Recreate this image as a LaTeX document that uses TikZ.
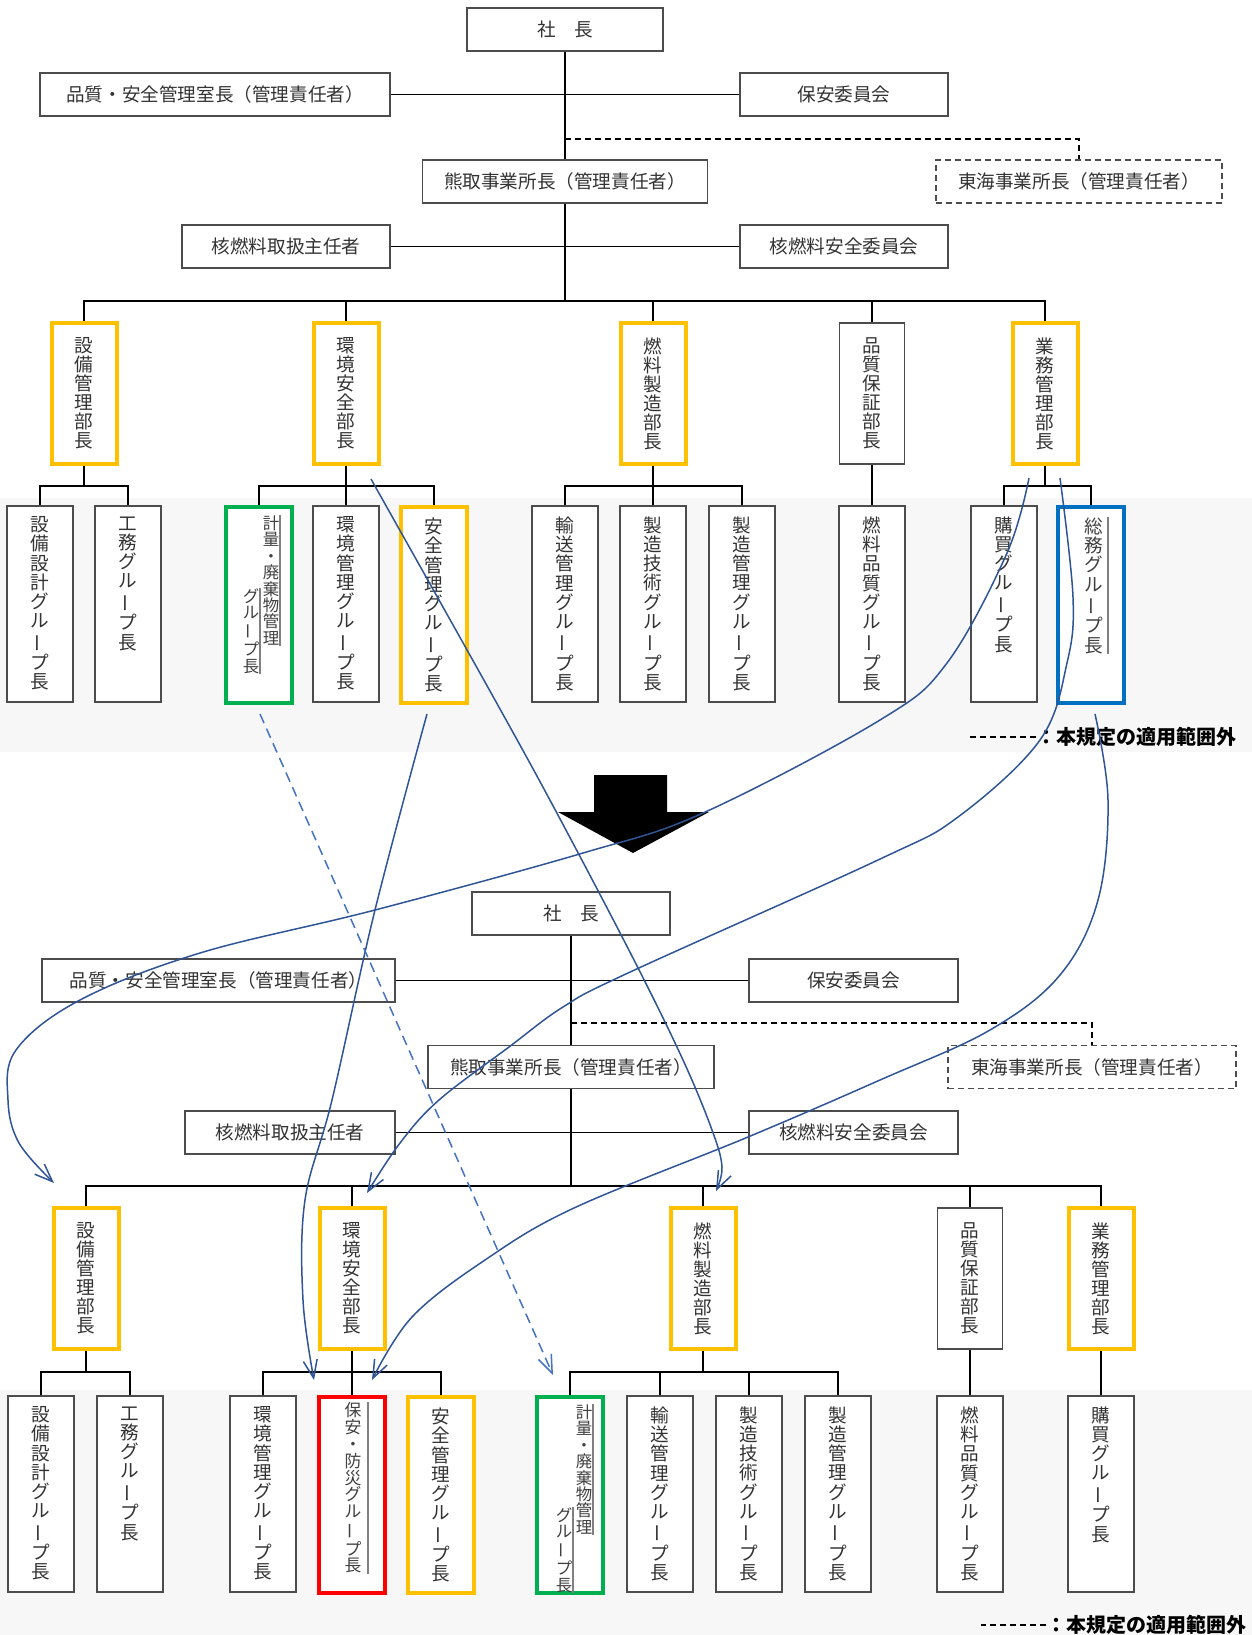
\documentclass[tikz,border=0pt]{standalone}
\usepackage{fontspec}
\setmainfont{Noto Sans CJK JP}
\usetikzlibrary{arrows.meta}
\definecolor{waku}{HTML}{FFC000}
\definecolor{midori}{HTML}{00B050}
\definecolor{ao}{HTML}{0070C0}
\definecolor{aka}{HTML}{FF0000}
\definecolor{yajirushi}{HTML}{2F5597}
\definecolor{tensen}{HTML}{4472C4}
\newcommand{\nobashi}{\rotatebox[origin=c]{90}{ー}}
\newcommand{\grptext}[1]{\parbox[c][95pt][t]{30pt}{\centering\vspace*{4pt}#1}}
\begin{document}
\begin{tikzpicture}[x=.5pt,y=-.5pt,line width=.75pt,
	box/.style={draw=black!70,fill=white,inner sep=0pt,text=black!80,minimum height=21.5pt,font=\fontsize{9.3}{11}\selectfont},
	dept/.style={box,minimum width=32.5pt,minimum height=70.5pt,align=center,font=\fontsize{9.3}{9.5}\selectfont},
	grp/.style={box,anchor=north,minimum width=33pt,minimum height=98pt,font=\fontsize{9.3}{9.6}\selectfont},
	coltxt/.style={anchor=north,inner sep=0pt,align=center,text=black!75},
	orwaku/.style={draw=waku,line width=2pt},
	midoriwaku/.style={draw=midori,line width=2pt},
	aowaku/.style={draw=ao,line width=2pt},
	akawaku/.style={draw=aka,line width=2pt},
	sideln/.style={black!50,line width=1.3pt},
	ido/.style={yajirushi,line width=.75pt,-{Straight Barb[length=9pt,width=7pt]}}]
	\useasboundingbox(0,0)rectangle(1252,1635);
	\fill[black!3](0,498)rectangle(1252,752);
	\fill[black!3](0,1390)rectangle(1252,1635);

	\node[box,minimum width=98pt](sha1)at(565,29.5){社　長};
	\node[box,minimum width=175pt](hin1)at(215,94.5){品質・安全管理室長（管理責任者）};
	\node[box,minimum width=104pt](hoan1)at(844,94.5){保安委員会};
	\node[box,minimum width=142.5pt](kuma1)at(565,181.5){熊取事業所長（管理責任者）};
	\node[box,densely dashed,minimum width=143pt](tokai1)at(1079,181.5){東海事業所長（管理責任者）};
	\node[box,minimum width=104pt](shu1)at(286,246.5){核燃料取扱主任者};
	\node[box,minimum width=104pt](anz1)at(844,246.5){核燃料安全委員会};
	\coordinate(br1)at(565,139);
	\coordinate(bus1)at(565,301);
	\coordinate(gb1)at(0,486);

	\node[dept,orwaku](setsu1)at(84,393.5){設\\備\\管\\理\\部\\長};
	\node[dept,orwaku](kan1)at(346,393.5){環\\境\\安\\全\\部\\長};
	\node[dept,orwaku](nen1)at(653,393.5){燃\\料\\製\\造\\部\\長};
	\node[dept](hinsho1)at(872,393.5){品\\質\\保\\証\\部\\長};
	\node[dept,orwaku](gyomu1)at(1045,393.5){業\\務\\管\\理\\部\\長};

	\node[grp](sekkei1)at(40,505){\grptext{設\\備\\設\\計\\グ\\ル\\\nobashi\\プ\\長}};
	\node[grp](koumu1)at(128,505){\grptext{工\\務\\グ\\ル\\\nobashi\\プ\\長}};
	\node[grp,midoriwaku](keiryo1)at(259,505){};
	\node[grp](kankyo1)at(346,505){\grptext{環\\境\\管\\理\\グ\\ル\\\nobashi\\プ\\長}};
	\node[grp,orwaku](anzen1)at(434,505){\grptext{安\\全\\管\\理\\グ\\ル\\\nobashi\\プ\\長}};
	\node[grp](yuso1)at(565,505){\grptext{輸\\送\\管\\理\\グ\\ル\\\nobashi\\プ\\長}};
	\node[grp](seizogi1)at(653,505){\grptext{製\\造\\技\\術\\グ\\ル\\\nobashi\\プ\\長}};
	\node[grp](seizokan1)at(742,505){\grptext{製\\造\\管\\理\\グ\\ル\\\nobashi\\プ\\長}};
	\node[grp](nenhin1)at(872,505){\grptext{燃\\料\\品\\質\\グ\\ル\\\nobashi\\プ\\長}};
	\node[grp](kobai1)at(1004,505){\grptext{購\\買\\グ\\ル\\\nobashi\\プ\\長}};
	\node[grp,aowaku](somu1)at(1091,505){};
	\node[coltxt,font=\fontsize{8.2}{8.2}\selectfont](kei1a)at(271,515){計\\量\\・\\廃\\棄\\物\\管\\理};
	\node[coltxt,font=\fontsize{8.2}{8.2}\selectfont](kei1b)at(251,588){グ\\ル\\\nobashi\\プ\\長};
	\node[coltxt,font=\fontsize{9.3}{9.6}\selectfont](somu1t)at(1094,517){総\\務\\グ\\ル\\\nobashi\\プ\\長};
	\draw[sideln](kei1a.north east)--(kei1a.south east);
	\draw[sideln](kei1b.north east)--(kei1b.south east);
	\draw[sideln]([xshift=2pt]somu1t.north east)--([xshift=2pt]somu1t.south east);

	\draw(sha1)--(kuma1);
	\draw(kuma1)--(bus1);
	\draw(hin1)--(hoan1);
	\draw(shu1)--(anz1);
	\draw[densely dashed](br1)-|(tokai1);
	\draw(setsu1)|-(bus1)-|(gyomu1);
	\foreach \d in {kan1,nen1,hinsho1}\draw(\d)--(\d|-bus1);
	\draw(setsu1)--(setsu1|-gb1);
	\draw(sekkei1)|-(setsu1|-gb1)-|(koumu1);
	\draw(kan1)--(kankyo1);
	\draw(keiryo1)|-(kan1|-gb1)-|(anzen1);
	\draw(nen1)--(seizogi1);
	\draw(yuso1)|-(nen1|-gb1)-|(seizokan1);
	\draw(hinsho1)--(nenhin1);
	\draw(gyomu1)--(gyomu1|-gb1);
	\draw(kobai1)|-(gyomu1|-gb1)-|(somu1);

	\node[anchor=west,inner sep=0pt,font=\bfseries\fontsize{10}{12}\selectfont](note1)at(1036,737){：本規定の適用範囲外};
	\draw[densely dashed,line width=.6pt](note1.west)--++(-66,0);

	\fill(594,775)--(667,775)--(667,812)--(709,812)--(633,853)--(558,812)--(594,812)--cycle;

	\node[box,minimum width=99pt](sha2)at(571,913.5){社　長};
	\node[box,minimum width=176.5pt](hin2)at(218.5,980.5){品質・安全管理室長（管理責任者）};
	\node[box,minimum width=104.5pt](hoan2)at(853.5,980.5){保安委員会};
	\node[box,minimum width=143pt](kuma2)at(571,1067){熊取事業所長（管理責任者）};
	\node[box,densely dashed,minimum width=144pt](tokai2)at(1092,1067){東海事業所長（管理責任者）};
	\node[box,minimum width=105pt](shu2)at(290,1132.5){核燃料取扱主任者};
	\node[box,minimum width=104.5pt](anz2)at(853.5,1132.5){核燃料安全委員会};
	\coordinate(br2)at(571,1023);
	\coordinate(bus2)at(571,1186);
	\coordinate(gb2)at(0,1372);

	\node[dept,orwaku](setsu2)at(86,1278.5){設\\備\\管\\理\\部\\長};
	\node[dept,orwaku](kan2)at(352,1278.5){環\\境\\安\\全\\部\\長};
	\node[dept,orwaku](nen2)at(703,1278.5){燃\\料\\製\\造\\部\\長};
	\node[dept](hinsho2)at(970,1278.5){品\\質\\保\\証\\部\\長};
	\node[dept,orwaku](gyomu2)at(1101,1278.5){業\\務\\管\\理\\部\\長};

	\node[grp](sekkei2)at(41,1395){\grptext{設\\備\\設\\計\\グ\\ル\\\nobashi\\プ\\長}};
	\node[grp](koumu2)at(130,1395){\grptext{工\\務\\グ\\ル\\\nobashi\\プ\\長}};
	\node[grp](kankyo2)at(263,1395){\grptext{環\\境\\管\\理\\グ\\ル\\\nobashi\\プ\\長}};
	\node[grp,akawaku](bousai2)at(352,1395){};
	\node[grp,orwaku](anzen2)at(441,1395){\grptext{安\\全\\管\\理\\グ\\ル\\\nobashi\\プ\\長}};
	\node[grp,midoriwaku](keiryo2)at(570,1395){};
	\node[grp](yuso2)at(660,1395){\grptext{輸\\送\\管\\理\\グ\\ル\\\nobashi\\プ\\長}};
	\node[grp](seizogi2)at(749,1395){\grptext{製\\造\\技\\術\\グ\\ル\\\nobashi\\プ\\長}};
	\node[grp](seizokan2)at(838,1395){\grptext{製\\造\\管\\理\\グ\\ル\\\nobashi\\プ\\長}};
	\node[grp](nenhin2)at(970,1395){\grptext{燃\\料\\品\\質\\グ\\ル\\\nobashi\\プ\\長}};
	\node[grp](kobai2)at(1101,1395){\grptext{購\\買\\グ\\ル\\\nobashi\\プ\\長}};
	\node[coltxt,font=\fontsize{8.4}{8.4}\selectfont](bousai2t)at(353,1402){保\\安\\・\\防\\災\\グ\\ル\\\nobashi\\プ\\長};
	\node[coltxt,font=\fontsize{8.2}{8.2}\selectfont](kei2a)at(584,1404){計\\量\\・\\廃\\棄\\物\\管\\理};
	\node[coltxt,font=\fontsize{8.2}{8.2}\selectfont](kei2b)at(564,1507){グ\\ル\\\nobashi\\プ\\長};
	\draw[sideln]([xshift=3pt]bousai2t.north east)--([xshift=3pt]bousai2t.south east);
	\draw[sideln](kei2a.north east)--(kei2a.south east);
	\draw[sideln](kei2b.north east)--(kei2b.south east);

	\draw(sha2)--(kuma2);
	\draw(kuma2)--(bus2);
	\draw(hin2)--(hoan2);
	\draw(shu2)--(anz2);
	\draw[densely dashed](br2)-|(tokai2);
	\draw(setsu2)|-(bus2)-|(gyomu2);
	\foreach \d in {kan2,nen2,hinsho2}\draw(\d)--(\d|-bus2);
	\draw(setsu2)--(setsu2|-gb2);
	\draw(sekkei2)|-(setsu2|-gb2)-|(koumu2);
	\draw(kan2)--(bousai2);
	\draw(kankyo2)|-(kan2|-gb2)-|(anzen2);
	\draw(nen2)--(nen2|-gb2);
	\draw(keiryo2)|-(nen2|-gb2)-|(seizokan2);
	\foreach \g in {yuso2,seizogi2}\draw(\g)--(\g|-gb2);
	\draw(hinsho2)--(nenhin2);
	\draw(gyomu2)--(kobai2);

	\node[anchor=west,inner sep=0pt,font=\bfseries\fontsize{10}{12}\selectfont](note2)at(1046,1625){：本規定の適用範囲外};
	\draw[densely dashed,line width=.6pt](note2.west)--++(-65,0);

	\coordinate(gyoL)at([shift={(-16,12)}]gyomu1.south);
	\coordinate(gyoR)at([shift={(15,12)}]gyomu1.south);
	\coordinate(somuB)at([shift={(4,9)}]somu1.south);
	\coordinate(kanB)at([shift={(25,13)}]kan1.south);
	\coordinate(anzB)at([shift={(-7,9)}]anzen1.south);
	\coordinate(keiB)at([shift={(1,9)}]keiryo1.south);
	\coordinate(setsuT)at([shift={(-32,-23)}]setsu2.north);
	\coordinate(kanT)at([shift={(15,-13)}]kan2.north);
	\coordinate(bouT1)at([shift={(-38,-15)}]bousai2.north);
	\coordinate(bouT2)at([shift={(20,-15)}]bousai2.north);
	\coordinate(nenT)at([shift={(13,-15)}]nen2.north);
	\coordinate(keiT)at([shift={(-17,-20)}]keiryo2.north);
	\draw[ido]plot[smooth,tension=.6]coordinates{(gyoL)(1007,553)(947,663)(880,720)(703,813)(583,853)(375,910)(200,953)(80,1000)(16,1050)(8,1100)(19,1143)(setsuT)};
	\draw[ido]plot[smooth,tension=.6]coordinates{(gyoR)(1073,597)(1067,663)(1040,740)(958,817)(878,860)(628,973)(563,1007)(509,1047)(439,1100)(400,1143)(kanT)};
	\draw[ido]plot[smooth,tension=.6]coordinates{(somuB)(1108,800)(1098,900)(1060,975)(990,1030)(880,1080)(748,1137)(574,1208)(485,1260)(412,1317)(bouT2)};
	\draw[ido]plot[smooth,tension=.6]coordinates{(kanB)(495,700)(559,817)(634,960)(683,1060)(712,1130)(722,1167)(nenT)};
	\draw[ido]plot[smooth,tension=.6]coordinates{(anzB)(375,910)(332,1100)(305,1200)(303,1300)(bouT1)};
	\draw[ido,tensen,dash pattern=on 5pt off 3pt](keiB)--(keiT);
\end{tikzpicture}
\end{document}
